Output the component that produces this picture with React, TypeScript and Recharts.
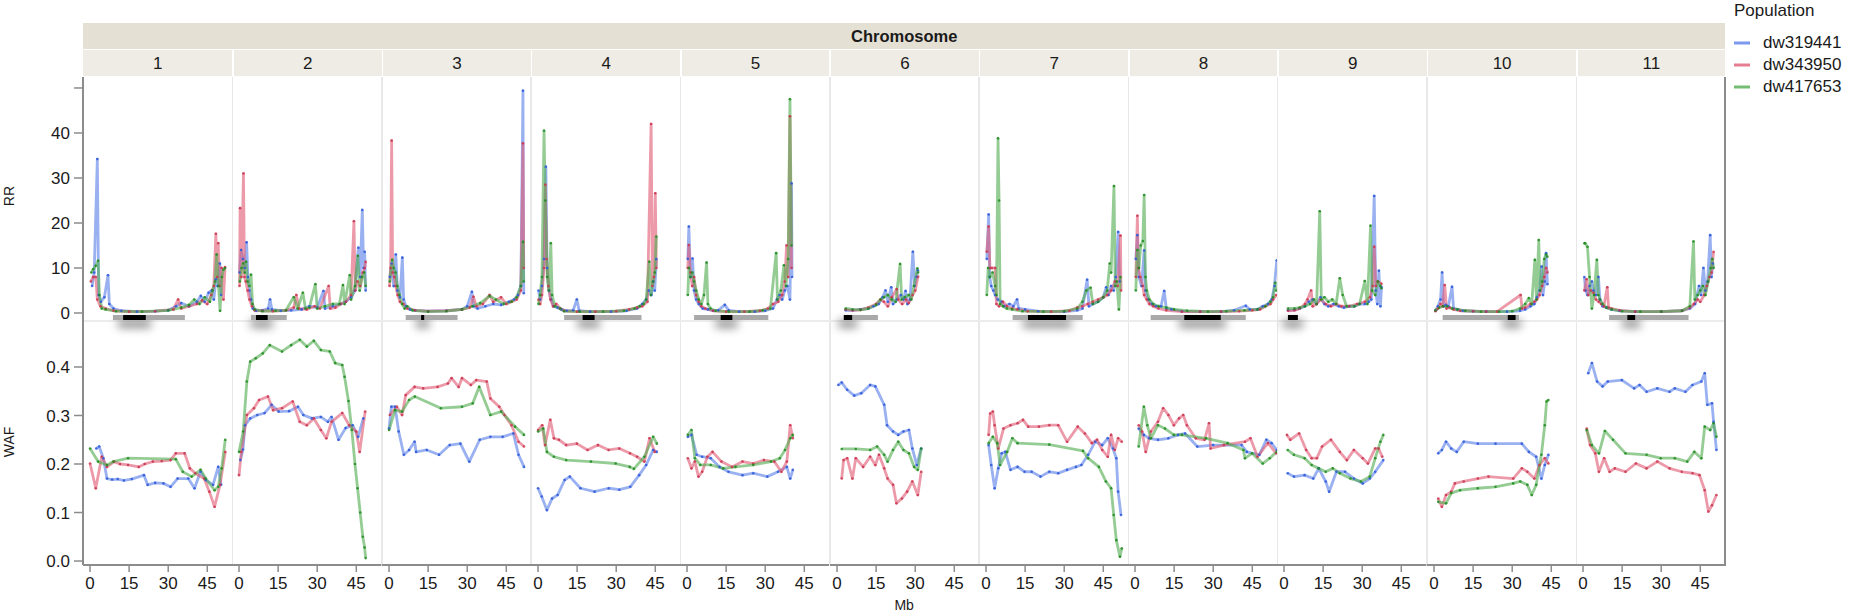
import React from 'react'
import { LineChart, Line, XAxis, YAxis, ReferenceArea } from 'recharts'

type P = [number, number]

const chromosomes = ['1', '2', '3', '4', '5', '6', '7', '8', '9', '10', '11']
const populations = ['dw319441', 'dw343950', 'dw417653']
const popColors = ['#5b80e8', '#e05c74', '#52ad52']
const dotColors = ['#2c57d8', '#c9344e', '#1f8a1f']

const mbTicks = [0, 15, 30, 45]
const rrTicks = [0, 10, 20, 30, 40, 50]
const wafTicks = [0, 0.1, 0.2, 0.3, 0.4]

// chromosome ideogram under RR panels: grey arm span and black centromere, Mb
const armSpans: P[] = [[8.8, 36.4], [4.6, 18.3], [6.4, 26.3], [10, 39.7], [2.7, 31.2], [2.6, 15.7], [10.2, 37.1], [6, 42.5], [1.5, 5.3], [3.3, 32.6], [10, 40.5]]
const centromeres: P[] = [[12.7, 21.4], [6.5, 11], [12.3, 13.5], [17.1, 21.7], [12.9, 17.4], [2.6, 5.8], [16.1, 30.7], [18.9, 32.9], [1.5, 5.3], [28.3, 31.3], [17, 20]]

// RR per chromosome: [dw319441, dw343950, dw417653], points are [Mb, RR]
const rr1: P[][] = [
  [[0.8, 6], [1.6, 9], [2.8, 34.2], [3.3, 4], [4.2, 2.5], [5.5, 3.5], [6.9, 8.4], [7.4, 2], [9, 1], [12, 0.5], [18, 0.3], [25, 0.4], [30, 0.6], [33, 1.5], [35, 2.2], [38, 1.5], [41, 2.5], [42.5, 3.8], [44, 2.5], [45.5, 4.5], [46.7, 5], [47.5, 3], [48.3, 7.5], [49, 6], [49.8, 11], [50.3, 4]],
  [[0.3, 7], [1.2, 8], [2.2, 8], [2.8, 3], [4, 1.5], [6, 1], [9, 0.5], [15, 0.3], [25, 0.4], [32, 0.8], [33.8, 3], [35, 1], [38, 1.5], [41, 2], [43, 2.8], [45, 2], [46.5, 4], [47.5, 6], [48.3, 17.6], [48.8, 8], [49.2, 15.5], [49.7, 6], [50.5, 10], [51.2, 3], [51.8, 10.2]],
  [[0.5, 9], [1.2, 9.7], [2.2, 10.5], [3.1, 11.6], [3.6, 4], [4.5, 1], [6, 0.8], [10, 0.4], [20, 0.3], [30, 0.6], [35, 1.2], [38, 1.8], [40, 3], [42, 2], [44, 3.5], [46, 2.5], [47, 5], [48, 7], [48.6, 13], [49.3, 6], [49.9, 0.5], [50.6, 8], [51.2, 9.6], [51.8, 10]],
]
const rr2: P[][] = [
  [[0.2, 9], [0.8, 14], [1.5, 12], [2.2, 10], [2.9, 15.7], [3.4, 8], [4, 5], [4.6, 3], [5.3, 1], [6.5, 0.5], [9, 0.6], [11.2, 1], [11.9, 3], [12.6, 0.8], [16, 0.5], [20, 0.6], [24, 0.8], [27, 1.5], [30, 1.2], [32.4, 4.9], [33, 1], [36, 1.5], [39, 2], [41, 2.5], [43, 3.5], [44.5, 5], [45.8, 14.5], [46.5, 8], [47.3, 22.9], [47.8, 10], [48.2, 13.6], [48.6, 5]],
  [[0.2, 6], [0.4, 23.3], [0.9, 8], [1.7, 31], [2.1, 8], [2.6, 7], [3.3, 5], [4, 3], [5, 1.5], [6, 0.6], [9, 0.5], [13, 0.4], [18, 0.6], [21, 1.2], [22, 4], [23, 1], [26, 0.8], [29, 1.5], [31, 1], [34.4, 6], [35, 1], [37, 1.2], [39, 2], [41, 2.5], [43, 4], [44.1, 20.4], [44.6, 5], [45.5, 7], [46.5, 6], [47.5, 9], [48.2, 10], [48.6, 11.4]],
  [[0.3, 7], [1, 10], [1.6, 11], [2.2, 9], [2.7, 11.4], [3.3, 7], [4, 6], [4.6, 8.5], [5.2, 2], [6, 0.8], [9, 0.4], [14, 0.5], [18, 0.6], [21, 3.5], [22.5, 1], [24.5, 4.5], [25.5, 1], [27, 1.2], [29.3, 6.4], [30, 1], [33, 1.5], [36, 2], [38.5, 2], [39.9, 6.2], [40.5, 2], [42.5, 8.4], [43, 3], [44.5, 6], [45.6, 12.7], [46.3, 5], [47.2, 8], [48, 9], [48.6, 6]],
]
const rr3: P[][] = [
  [[0.3, 8], [1, 11], [1.8, 6], [2.6, 13], [3.2, 5], [4.2, 3.5], [5.1, 12.3], [5.6, 3], [6.5, 1.5], [8, 0.8], [10, 0.6], [15, 0.4], [22, 0.5], [28, 0.8], [30, 1.5], [31.8, 4.7], [32.4, 1.5], [34, 1], [37, 1.5], [40, 2], [43, 1.8], [46, 2.5], [48, 3], [49.5, 4], [50.6, 6], [51.4, 49.4], [51.7, 4.4]],
  [[0.2, 6], [0.6, 10], [1, 38.3], [1.4, 9], [2, 8], [2.6, 6], [3.3, 4], [4.2, 2.5], [5.5, 2], [7, 1], [10, 0.6], [15, 0.4], [22, 0.5], [28, 0.8], [31, 1.2], [32.4, 3.6], [33.5, 1.5], [36, 2], [38.6, 4], [40, 2.5], [43, 3.5], [45, 2], [47, 2.5], [49, 3], [50.6, 5], [51.4, 37.7], [51.7, 10]],
  [[0.3, 7], [1.2, 11.8], [1.8, 10], [2.5, 9], [3.2, 6], [4, 4], [5, 2], [6, 1], [7, 1.5], [9, 0.6], [15, 0.3], [22, 0.4], [28, 0.8], [32, 1.5], [35, 2.2], [38.6, 3.8], [41, 3], [44, 2], [47, 2.5], [49, 3.5], [50.6, 6], [51.4, 15.8], [51.7, 7]],
]
const rr4: P[][] = [
  [[0.2, 5], [0.8, 3], [1.5, 6], [2.3, 12], [3, 32.5], [3.5, 10], [4.2, 5], [5, 3], [6, 1.5], [7.5, 1.2], [9, 0.8], [11, 0.5], [13.5, 0.6], [14.9, 3], [15.8, 0.5], [20, 0.3], [28, 0.3], [34, 0.5], [38, 1], [40, 2], [41.5, 3], [42.5, 5], [43.5, 4], [44.2, 7], [44.8, 5], [45.4, 12]],
  [[0.2, 3], [0.8, 2], [1.5, 4], [2.3, 10], [2.8, 28.5], [3.3, 12], [4, 6], [4.8, 3], [5.8, 1.5], [7, 2], [8.5, 1], [10, 0.5], [15, 0.3], [22, 0.3], [30, 0.4], [35, 0.8], [38, 1.2], [40, 1.5], [42, 2.5], [43.4, 42], [43.9, 6], [44.5, 8], [45, 26.6], [45.4, 10]],
  [[0.2, 2], [0.8, 4], [1.5, 8], [2.3, 40.5], [2.8, 25], [3.5, 8], [4.2, 5], [4.9, 15.5], [5.4, 4], [6.5, 1.5], [8.5, 1], [10, 0.4], [16, 0.3], [25, 0.3], [33, 0.5], [37, 1], [39, 1.5], [40.5, 2], [41.5, 3], [42.7, 11.4], [43.3, 4], [44.2, 7], [44.8, 9], [45.4, 17]],
]
const rr5: P[][] = [
  [[0.3, 12], [0.7, 19.2], [1.3, 8], [2.1, 12.1], [2.7, 5], [3.5, 3], [4.5, 2], [6, 1], [8, 0.8], [10, 0.5], [12, 0.6], [14.5, 1.8], [16, 0.6], [20, 0.3], [26, 0.3], [30, 0.5], [33, 1], [34.5, 3], [35.5, 4], [36.5, 3], [37.5, 5], [38.5, 6], [39.5, 3], [40.1, 28.8], [40.3, 8]],
  [[0.3, 10], [0.7, 15.1], [1.3, 9], [2, 6], [2.7, 8], [3.5, 4], [4.5, 2.5], [5.5, 1.5], [7, 1], [10, 0.5], [15, 0.3], [22, 0.3], [28, 0.5], [31, 1], [33, 2], [35, 2.5], [36.5, 4], [37.5, 7], [38.2, 15], [38.8, 8], [39.5, 43.7], [40.1, 10]],
  [[0.3, 4], [0.7, 10], [1.3, 8], [2, 9], [2.7, 7], [3.5, 5], [4.5, 3], [5.5, 2], [6.5, 4], [7.5, 11.2], [8, 2], [9, 1], [11, 0.5], [16, 0.3], [24, 0.3], [29, 0.6], [32, 1], [34.2, 13.3], [34.7, 3], [36, 5], [37.2, 10.6], [38, 6], [38.8, 12], [39.5, 47.5], [40.1, 15]],
]
const rr6: P[][] = [
  [[3.3, 0.6], [6, 0.6], [9, 0.8], [12, 1], [14, 1.5], [16, 2], [17.5, 3.5], [18.6, 5], [19.5, 2.5], [20.8, 5.7], [21.5, 2], [23, 3], [24.5, 4], [25.5, 3], [26.3, 4.9], [27, 2], [28, 3], [29.1, 13.6], [29.8, 6], [30.5, 8], [31, 9.5]],
  [[3.3, 0.8], [6, 0.6], [9, 0.7], [12, 1.2], [15, 2], [16.7, 3], [18, 2.5], [19.5, 1.5], [21, 3.5], [22.9, 5.3], [23.5, 3], [25, 2], [26.5, 3], [27.5, 2.2], [29, 4], [30, 5], [31.1, 8.1]],
  [[3.3, 1], [6, 0.8], [9, 0.7], [12, 1], [15, 1.8], [16.7, 3], [18, 3.5], [19.5, 4], [21, 3], [22.5, 2.5], [24.2, 10.9], [24.8, 3], [26, 3.5], [27.5, 4], [28.5, 3], [29.5, 6], [30.8, 9.9], [31.1, 9]],
]
const rr7: P[][] = [
  [[0.3, 12], [1, 21.9], [1.4, 8], [2, 6], [2.8, 5], [3.5, 4], [4.5, 3], [6, 2.5], [7, 1.5], [9, 2], [10.5, 1.5], [11.9, 3], [12.5, 1], [15, 0.8], [20, 0.4], [30, 0.3], [35, 0.6], [37, 1], [38.8, 7.4], [39.5, 1.5], [41, 2], [43, 2.5], [45, 3.5], [46.1, 5.7], [47, 4], [48, 6], [49, 5], [49.8, 8], [50.7, 18], [51.3, 7]],
  [[0.3, 13.6], [1, 19.2], [1.5, 10], [2.3, 10], [3.5, 10], [4, 2], [5, 1.5], [6.5, 2.5], [8, 1.5], [10, 1], [12, 0.8], [16, 0.4], [25, 0.3], [32, 0.5], [35, 1.2], [37, 1.5], [39, 2], [41, 2.5], [43, 3], [45, 3.5], [46.5, 4], [48, 5], [49.5, 7], [50.5, 6], [51.6, 17.2], [51.8, 5]],
  [[0.3, 4], [0.8, 10], [1.5, 8], [2.5, 9], [3.5, 6], [4, 4], [4.6, 38.8], [5, 25], [5.4, 2], [6.5, 1.5], [8, 1], [10, 0.8], [14, 0.4], [22, 0.3], [30, 0.4], [35, 1], [37, 2.5], [38.5, 5], [40.1, 5.6], [41, 2], [43, 2.5], [45, 3.5], [46.5, 5], [47.5, 11], [48, 9], [49.1, 28.2], [49.6, 6], [50.2, 7], [51, 0.8], [51.6, 8]],
]
const rr8: P[][] = [
  [[0.3, 12], [0.9, 17.3], [1.5, 8], [2.5, 6], [3.5, 13.9], [4, 5], [5, 3], [6.5, 2], [8, 1.5], [10, 1.5], [11.2, 4.9], [12, 1], [14, 0.8], [18, 0.4], [25, 0.3], [33, 0.3], [38, 0.6], [42.5, 1.6], [44, 0.8], [47, 0.8], [49, 1.5], [51, 2], [52.5, 3], [53.5, 6], [54.4, 11.7]],
  [[0.3, 8], [0.9, 21.6], [1.3, 10], [2, 8], [3, 6], [3.5, 4], [4.5, 3], [5.5, 2], [7, 1.5], [9, 1], [12, 0.6], [18, 0.3], [25, 0.3], [33, 0.3], [40, 0.4], [45, 0.6], [48, 0.8], [50, 1.5], [52, 2], [53, 3], [54.2, 4]],
  [[0.3, 5], [0.9, 14], [1.5, 10], [2.2, 15], [3, 16], [3.5, 26.2], [4, 8], [4.5, 5], [5.5, 3], [7, 2], [9, 1.5], [12, 1.2], [15, 0.8], [20, 0.5], [28, 0.3], [35, 0.4], [42, 0.6], [47, 0.8], [50, 1.5], [52, 2.5], [53, 3.5], [53.8, 6.7], [54.2, 5]],
]
const rr9: P[][] = [
  [[1.5, 0.6], [4, 0.7], [6, 1], [8, 1.5], [9.5, 2.5], [11, 3], [12.5, 2], [14, 3.5], [15.5, 2], [17, 1.5], [19, 2], [21, 1.5], [23, 1.2], [25, 1.5], [27, 1.5], [29, 2], [31, 2], [32.5, 2.5], [33.5, 3], [34.6, 26], [35.2, 5], [35.8, 2], [36.4, 9.4], [37, 1.5], [37.4, 5.8]],
  [[1.5, 0.5], [4, 0.6], [6, 1], [8, 2], [9, 3], [10.4, 5], [11, 1.5], [12.5, 2], [14, 3], [16, 2], [18, 1.5], [20, 2], [22, 1.5], [25, 1.5], [28, 2], [31, 2.5], [33, 3.5], [34, 6], [34.6, 14.7], [35.2, 6], [36, 7], [37.4, 6.5]],
  [[1.5, 1], [4, 1], [6, 1.2], [8, 1.5], [10, 2], [11.5, 3], [12.5, 2], [13.7, 22.6], [14.3, 3], [15.5, 3.5], [17, 2.5], [18.5, 3], [20, 2], [21.4, 7.7], [22.5, 4], [24, 1.5], [27, 1.5], [29, 2], [31, 7.1], [32, 2], [33.2, 19.4], [33.8, 5], [35, 4], [36, 7], [37, 6], [37.4, 5.5]],
]
const rr10: P[][] = [
  [[0.5, 0.5], [1.5, 1.5], [2.5, 3], [3.1, 9], [3.6, 1.5], [4.5, 1.8], [5.5, 1.5], [6.9, 5.8], [7.5, 1], [9, 0.8], [11, 0.5], [15, 0.4], [20, 0.3], [28, 0.3], [33, 0.5], [35, 0.8], [37, 1.5], [38.5, 2], [39.5, 3.5], [40.5, 5], [41.3, 10.3], [41.8, 4], [42.5, 7], [43, 13.3], [43.5, 6.4]],
  [[0.5, 0.4], [1.5, 1], [2.5, 2], [3.3, 1.5], [4.1, 6.2], [4.8, 1], [6, 1.2], [7.5, 0.8], [10, 0.5], [15, 0.4], [20, 0.3], [24.2, 0.3], [33.2, 4], [33.8, 1], [35, 1.2], [37, 2], [38.5, 2.5], [39.5, 3], [40.5, 4], [41.5, 6], [42.3, 8], [43, 10], [43.5, 9]],
  [[0.5, 0.6], [2, 1.2], [3.5, 1.5], [5, 1.5], [7, 1], [9, 0.8], [12, 0.5], [18, 0.3], [25, 0.3], [30, 0.4], [33, 1], [35, 2], [36.4, 3.3], [37.5, 2], [38.7, 11.8], [39.3, 3], [40.2, 16.2], [40.7, 5], [41.5, 7], [42.3, 12], [43, 13], [43.5, 12.5]],
]
const rr11: P[][] = [
  [[0.5, 8], [1, 5], [1.7, 4], [2.5, 6], [3.4, 7], [4, 5], [5, 4], [5.9, 8], [6.5, 3], [7.5, 1.5], [9, 1.2], [11, 0.8], [14, 0.5], [20, 0.3], [30, 0.3], [38, 0.5], [41, 1], [43, 2], [44.5, 6], [45.3, 4], [46.2, 10], [47, 5], [47.8, 7], [48.8, 17.3], [49.3, 8], [49.8, 11]],
  [[0.5, 5], [1.4, 7.5], [2, 4], [3, 5], [4, 4.5], [5, 3], [6, 2.5], [7, 2], [8, 1.5], [9.3, 5.7], [9.8, 1.2], [11, 1], [14, 0.6], [20, 0.3], [30, 0.3], [38, 0.5], [41, 1.2], [42.5, 2], [44, 3], [45, 2.5], [46.5, 4], [47.5, 6], [48.5, 8], [49.3, 9], [50.1, 13.6]],
  [[0.5, 15.5], [0.8, 15.5], [1.7, 14.7], [2.5, 8], [3.4, 1], [4.2, 4], [5.3, 11.8], [5.9, 4], [6.5, 3], [7.5, 2], [9, 1.2], [11, 0.8], [15, 0.4], [22, 0.3], [30, 0.3], [38, 0.5], [41, 1.5], [42.4, 15.9], [42.9, 3], [44, 4], [45, 5], [46, 6], [47, 4], [48, 7], [49, 10], [49.6, 12], [50.1, 10]],
]

// WAF per chromosome: [dw319441, dw343950, dw417653], points are [Mb, WAF]
const waf1: P[][] = [
  [[2.4, 0.232], [3.5, 0.236], [5.1, 0.212], [6.5, 0.17], [8.5, 0.168], [10.6, 0.169], [13, 0.166], [16, 0.169], [20.7, 0.177], [22.1, 0.157], [25, 0.161], [28.2, 0.16], [30.9, 0.153], [33.6, 0.17], [37.7, 0.17], [40.1, 0.15], [42.4, 0.184], [44.4, 0.167], [47.2, 0.157], [49.2, 0.194], [50.3, 0.157]],
  [[0, 0.201], [2.2, 0.15], [4.5, 0.215], [6.5, 0.194], [9.2, 0.205], [11.5, 0.2], [14.6, 0.198], [18.7, 0.194], [21, 0.2], [24.1, 0.205], [27.5, 0.206], [30.9, 0.208], [32.9, 0.222], [36.3, 0.222], [38.3, 0.191], [40.4, 0.181], [43.8, 0.17], [45.8, 0.143], [47.8, 0.112], [49.9, 0.157], [51.9, 0.225]],
  [[0, 0.232], [3.1, 0.205], [6.5, 0.198], [9, 0.205], [14.6, 0.212], [32.9, 0.21], [35.6, 0.184], [39, 0.174], [42.4, 0.188], [44.4, 0.17], [47.8, 0.146], [49.2, 0.153], [50.5, 0.191], [51.9, 0.25]],
]
const waf2: P[][] = [
  [[0.5, 0.208], [1.5, 0.23], [2.3, 0.28], [4.3, 0.294], [7, 0.301], [9.8, 0.305], [12.5, 0.322], [15.2, 0.308], [19.2, 0.309], [22.6, 0.318], [24.7, 0.301], [28, 0.294], [31.4, 0.297], [34.1, 0.287], [35.5, 0.297], [38.2, 0.25], [40.9, 0.274], [43.6, 0.28], [45.7, 0.256], [47.7, 0.294]],
  [[0, 0.177], [0.9, 0.225], [3, 0.301], [5.7, 0.315], [7.7, 0.332], [11.1, 0.339], [13.1, 0.311], [16.5, 0.315], [20.6, 0.329], [23.3, 0.287], [26, 0.28], [28.7, 0.294], [31.4, 0.27], [33.5, 0.253], [35.5, 0.287], [39.6, 0.305], [42.3, 0.28], [45, 0.267], [46.3, 0.225], [48.4, 0.308]],
  [[0, 0.225], [1.6, 0.267], [3, 0.37], [4.3, 0.411], [6.4, 0.418], [9.1, 0.428], [11.8, 0.445], [16.5, 0.432], [20, 0.445], [23.3, 0.456], [26, 0.442], [28.7, 0.454], [31.4, 0.435], [34.8, 0.432], [36.9, 0.408], [39.6, 0.404], [40.5, 0.38], [42, 0.33], [43.3, 0.27], [44.5, 0.2], [45.5, 0.15], [46.5, 0.1], [47.5, 0.05], [48.2, 0.028], [48.6, 0.006]],
]
const waf3: P[][] = [
  [[0, 0.273], [0.9, 0.318], [2.3, 0.318], [3.7, 0.267], [5.7, 0.219], [7.7, 0.229], [9.8, 0.246], [10.4, 0.225], [14.5, 0.229], [19.2, 0.219], [23.3, 0.239], [27.4, 0.242], [30.8, 0.205], [34.8, 0.25], [38.9, 0.256], [43.6, 0.256], [47.7, 0.263], [49.7, 0.219], [51.8, 0.194]],
  [[0.3, 0.301], [3, 0.318], [5, 0.301], [6.4, 0.342], [9.8, 0.359], [13.1, 0.356], [18.6, 0.359], [22.6, 0.366], [24, 0.377], [26.7, 0.359], [28, 0.377], [31.4, 0.363], [33.5, 0.373], [37.5, 0.37], [38.9, 0.335], [42.3, 0.318], [44.3, 0.301], [47, 0.28], [49.7, 0.246], [51.8, 0.236]],
  [[0, 0.27], [2.3, 0.311], [5, 0.308], [7.7, 0.332], [9.9, 0.339], [19.9, 0.315], [28, 0.318], [32.1, 0.325], [34.6, 0.359], [38.9, 0.301], [43, 0.308], [48.4, 0.277], [51.8, 0.26]],
]
const waf4: P[][] = [
  [[0, 0.15], [1.4, 0.133], [3.4, 0.105], [5.4, 0.129], [7.5, 0.136], [10.2, 0.167], [12.2, 0.174], [16.3, 0.15], [21.7, 0.143], [27.1, 0.15], [31.2, 0.147], [35.4, 0.153], [38.8, 0.177], [41.5, 0.198], [44.2, 0.229], [45.6, 0.225]],
  [[0, 0.27], [1.6, 0.28], [2.7, 0.239], [4.7, 0.291], [6.1, 0.253], [8, 0.25], [10.8, 0.239], [14.9, 0.242], [19, 0.229], [23, 0.239], [27.1, 0.229], [31.2, 0.232], [35.3, 0.222], [38, 0.215], [40.8, 0.205], [42.8, 0.253], [44.8, 0.225]],
  [[0, 0.267], [2, 0.273], [3.4, 0.225], [6.1, 0.215], [10.8, 0.208], [20.3, 0.205], [29.8, 0.201], [35.2, 0.194], [36.8, 0.19], [40.8, 0.215], [44.2, 0.256], [45.6, 0.242]],
]
const waf5: P[][] = [
  [[0.3, 0.256], [1.7, 0.26], [3.7, 0.219], [5.8, 0.215], [9.1, 0.212], [12.5, 0.194], [15.9, 0.184], [21.3, 0.177], [25.4, 0.181], [30.8, 0.174], [34.9, 0.184], [38.3, 0.194], [39.6, 0.17], [40.6, 0.188]],
  [[0.3, 0.212], [1.7, 0.191], [3, 0.205], [4.4, 0.174], [5.8, 0.184], [7.8, 0.215], [9.8, 0.225], [13.2, 0.205], [17.3, 0.194], [21.3, 0.205], [25.4, 0.201], [29.5, 0.208], [33.5, 0.205], [36.2, 0.184], [38.3, 0.205], [39.6, 0.28], [40.6, 0.253]],
  [[0.3, 0.26], [1.7, 0.27], [3, 0.212], [5.1, 0.198], [9.1, 0.198], [13.9, 0.191], [18.6, 0.194], [25.4, 0.198], [32.2, 0.205], [35.6, 0.212], [37.6, 0.229], [39.6, 0.253], [40.6, 0.26]],
]
const waf6: P[][] = [
  [[0.5, 0.363], [1.8, 0.368], [3.9, 0.353], [6.6, 0.341], [9.3, 0.346], [12.7, 0.363], [14.7, 0.36], [18.1, 0.322], [19.2, 0.28], [21.5, 0.267], [23.5, 0.26], [25.5, 0.267], [27.6, 0.27], [28.9, 0.232], [30.6, 0.198], [32.3, 0.232]],
  [[1.8, 0.17], [2.5, 0.208], [3.9, 0.212], [5.9, 0.17], [7.2, 0.212], [10, 0.194], [12.7, 0.215], [14.7, 0.198], [16.1, 0.219], [18.1, 0.191], [19.4, 0.17], [21.5, 0.157], [22.8, 0.119], [24.9, 0.129], [26.9, 0.143], [28.9, 0.164], [31, 0.136], [32.3, 0.184]],
  [[1.8, 0.231], [7.2, 0.231], [12.7, 0.229], [15.4, 0.236], [18.1, 0.219], [19.4, 0.205], [21.5, 0.229], [23.5, 0.246], [25.5, 0.229], [27.6, 0.222], [29.6, 0.194], [31, 0.188], [32.3, 0.232]],
]
const waf7: P[][] = [
  [[1, 0.239], [2, 0.198], [3.3, 0.15], [4.7, 0.191], [6, 0.222], [7.4, 0.225], [9.4, 0.188], [12.1, 0.194], [14.8, 0.184], [17.5, 0.184], [20.9, 0.174], [24.3, 0.184], [27.7, 0.181], [31.1, 0.188], [34.5, 0.194], [36.6, 0.198], [39.2, 0.219], [41.9, 0.246], [44.6, 0.239], [46.7, 0.253], [48.7, 0.232], [50, 0.212], [50.7, 0.143], [51.8, 0.095]],
  [[1, 0.26], [1.6, 0.304], [2.6, 0.308], [3.3, 0.28], [4.7, 0.232], [6.7, 0.273], [9.4, 0.28], [12.1, 0.284], [14.2, 0.291], [16.2, 0.277], [20.3, 0.277], [24.3, 0.28], [27.7, 0.28], [31.1, 0.246], [35.2, 0.277], [37.9, 0.263], [40.6, 0.243], [42.6, 0.25], [44.6, 0.229], [46.7, 0.215], [48, 0.26], [49.4, 0.229], [50.7, 0.253], [52.1, 0.246]],
  [[1, 0.243], [2.6, 0.256], [4.3, 0.243], [5.4, 0.198], [8.1, 0.225], [10.1, 0.253], [12.1, 0.243], [24.3, 0.24], [37.2, 0.227], [39.2, 0.212], [43.3, 0.194], [46, 0.164], [48, 0.15], [49, 0.095], [50, 0.043], [51.4, 0.009], [52.1, 0.026]],
]
const waf8: P[][] = [
  [[1.4, 0.273], [3.4, 0.26], [5.4, 0.253], [8.8, 0.25], [12.8, 0.253], [16.5, 0.26], [19.2, 0.263], [23.9, 0.236], [30, 0.239], [40.9, 0.239], [42.9, 0.225], [47.7, 0.219], [50.4, 0.25], [52.4, 0.243], [54.4, 0.229]],
  [[1.4, 0.28], [2.7, 0.267], [4.1, 0.225], [6.1, 0.267], [8.8, 0.287], [10.8, 0.315], [12.8, 0.301], [14.9, 0.28], [16.9, 0.294], [18.5, 0.301], [19.9, 0.28], [23.3, 0.253], [26.7, 0.25], [28.4, 0.284], [29, 0.232], [34.1, 0.239], [42.2, 0.246], [44.3, 0.253], [47, 0.215], [51, 0.243], [54.2, 0.222]],
  [[1.4, 0.236], [3.4, 0.318], [4.7, 0.28], [6.1, 0.253], [8.8, 0.28], [11.5, 0.273], [14.9, 0.26], [18, 0.26], [27.3, 0.253], [35.5, 0.243], [41.6, 0.229], [42.2, 0.212], [44.9, 0.222], [49, 0.201], [51.7, 0.212], [54.4, 0.225]],
]
const waf9: P[][] = [
  [[1.4, 0.181], [3.8, 0.174], [7.9, 0.177], [11.2, 0.17], [13.3, 0.191], [16, 0.164], [17.3, 0.143], [20.1, 0.184], [23.4, 0.184], [26.8, 0.17], [30.2, 0.16], [32.9, 0.17], [35, 0.184], [38.1, 0.208]],
  [[1.1, 0.26], [2.4, 0.25], [5.8, 0.263], [8.5, 0.229], [10.6, 0.212], [12.6, 0.212], [14.6, 0.236], [18, 0.25], [21.4, 0.225], [24.1, 0.208], [26.8, 0.229], [30.2, 0.212], [32.2, 0.201], [35, 0.232], [36.3, 0.232], [37.7, 0.215]],
  [[1.4, 0.229], [3.8, 0.219], [7.9, 0.212], [10.6, 0.198], [13.3, 0.191], [16, 0.184], [18.7, 0.191], [21.4, 0.181], [25.5, 0.17], [29.5, 0.164], [32.9, 0.174], [35, 0.212], [37, 0.246], [38.1, 0.26]],
]
const waf10: P[][] = [
  [[1.6, 0.222], [3, 0.229], [4.6, 0.246], [6.6, 0.232], [8.7, 0.225], [11.4, 0.246], [16.8, 0.242], [23.6, 0.242], [33.7, 0.242], [36.4, 0.225], [39.2, 0.215], [41.2, 0.17], [42.5, 0.198], [43.9, 0.219]],
  [[1.6, 0.129], [3, 0.112], [4.6, 0.136], [6.6, 0.143], [8, 0.16], [11.4, 0.164], [16.8, 0.17], [20.9, 0.174], [30.4, 0.17], [33.7, 0.191], [35.8, 0.184], [38.5, 0.17], [40.5, 0.198], [42.5, 0.212], [43.9, 0.201]],
  [[1.6, 0.122], [4.6, 0.119], [6.6, 0.14], [10, 0.146], [16.8, 0.15], [23.6, 0.153], [30.4, 0.16], [33.1, 0.164], [35.8, 0.157], [37.5, 0.136], [39.2, 0.157], [41.2, 0.219], [42.5, 0.28], [43.2, 0.329], [43.9, 0.332]],
]
const waf11: P[][] = [
  [[2, 0.387], [3.4, 0.408], [5.4, 0.37], [7.5, 0.36], [9.5, 0.37], [14.9, 0.373], [19.6, 0.356], [21.7, 0.363], [24.4, 0.349], [28.5, 0.356], [33.2, 0.349], [35.2, 0.356], [39.3, 0.349], [42, 0.363], [45.4, 0.37], [46.7, 0.387], [47.7, 0.322], [49.5, 0.325], [50.1, 0.287], [51.2, 0.229]],
  [[1.4, 0.273], [2.7, 0.239], [4.7, 0.222], [6.1, 0.184], [8.1, 0.212], [10.2, 0.184], [12.2, 0.191], [16.3, 0.184], [20.3, 0.201], [24.4, 0.191], [28.5, 0.205], [33.2, 0.191], [37.9, 0.184], [42, 0.181], [44.7, 0.177], [46.7, 0.146], [48.1, 0.102], [49.5, 0.115], [51.2, 0.136]],
  [[1.4, 0.27], [3.4, 0.239], [6.1, 0.222], [8.4, 0.268], [11.5, 0.25], [16.3, 0.222], [24.4, 0.219], [29.8, 0.212], [35.2, 0.212], [40, 0.205], [42.7, 0.225], [45.4, 0.212], [46.7, 0.277], [48.8, 0.27], [50.1, 0.284], [51.2, 0.256]],
]

const rrData = [rr1, rr2, rr3, rr4, rr5, rr6, rr7, rr8, rr9, rr10, rr11]
const wafData = [waf1, waf2, waf3, waf4, waf5, waf6, waf7, waf8, waf9, waf10, waf11]

const FONT = '"Liberation Sans", Arial, Helvetica, sans-serif'
const PLOT_LEFT = 83
const FACET_W = 149.3
const AXIS_W = 83
const RR_TOP = 77
const RR_H = 264 // runs 20px under the WAF panel so the ideogram shadow is not cut
const WAF_TOP = 321
const WAF_H = 244
const XAXIS_H = 36
const MB_DOMAIN = [-2.7, 54.6]
const RR_DOMAIN = [-6.22, 52.44]
const WAF_DOMAIN = [-0.0082, 0.4948]
const AXIS_GREY = '#8c8c8c'

const rows = (pts: P[]) => pts.map(([x, y]) => ({ x, y }))

function seriesLines(data: P[][]) {
  return data.map((pts, k) => (
    <Line
      key={populations[k]}
      data={rows(pts)}
      dataKey="y"
      type="linear"
      stroke={popColors[k]}
      strokeOpacity={0.62}
      strokeWidth={2.8}
      strokeLinejoin="round"
      dot={{ r: 1.3, fill: dotColors[k], stroke: 'none', fillOpacity: 0.85 }}
      activeDot={false}
      isAnimationActive={false}
    />
  ))
}

const tickStyle = { fontSize: 17, fill: '#1a1a1a', fontFamily: FONT }

function RRFacet({ i }: { i: number }) {
  const first = i === 0
  const left = first ? 0 : PLOT_LEFT + i * FACET_W
  const width = first ? AXIS_W + FACET_W : FACET_W
  const [a0, a1] = armSpans[i]
  const [c0, c1] = centromeres[i]
  return (
    <div style={{ position: 'absolute', left, top: RR_TOP }}>
      <LineChart width={width} height={RR_H} margin={{ top: 0, right: 0, bottom: 0, left: 0 }}>
        <defs>
          <filter id={`shadow${i}`} x="-50%" y="-200%" width="200%" height="500%">
            <feGaussianBlur stdDeviation="5" />
          </filter>
        </defs>
        <XAxis type="number" dataKey="x" domain={MB_DOMAIN} allowDataOverflow hide />
        <YAxis
          type="number"
          domain={RR_DOMAIN}
          ticks={rrTicks}
          allowDataOverflow
          hide={!first}
          width={AXIS_W}
          tick={tickStyle}
          tickFormatter={(v) => (v === 50 ? '' : String(v))}
          tickSize={9}
          tickMargin={4}
          axisLine={{ stroke: AXIS_GREY, strokeWidth: 2 }}
          tickLine={{ stroke: AXIS_GREY, strokeWidth: 1.5 }}
        />
        <ReferenceArea
          x1={c0 - 2}
          x2={c1 + 2}
          y1={-3.2}
          y2={-1.6}
          shape={(p: any) => (
            <rect x={p.x} y={p.y} width={p.width} height={p.height} fill="#000" opacity={0.5} filter={`url(#shadow${i})`} />
          )}
        />
        <ReferenceArea x1={a0} x2={a1} y1={-1.55} y2={-0.45} fill="#a9a9a9" fillOpacity={1} stroke="none" />
        <ReferenceArea x1={c0} x2={c1} y1={-1.55} y2={-0.45} fill="#000" fillOpacity={1} stroke="none" />
        {seriesLines(rrData[i])}
      </LineChart>
    </div>
  )
}

function WAFFacet({ i }: { i: number }) {
  const first = i === 0
  const left = first ? 0 : PLOT_LEFT + i * FACET_W
  const width = first ? AXIS_W + FACET_W : FACET_W
  return (
    <div style={{ position: 'absolute', left, top: WAF_TOP }}>
      <LineChart width={width} height={WAF_H + XAXIS_H} margin={{ top: 0, right: 0, bottom: 0, left: 0 }}>
        <XAxis
          type="number"
          dataKey="x"
          domain={MB_DOMAIN}
          ticks={mbTicks}
          allowDataOverflow
          height={XAXIS_H}
          tick={tickStyle}
          tickSize={7}
          tickMargin={5}
          interval={0}
          axisLine={{ stroke: AXIS_GREY, strokeWidth: 2 }}
          tickLine={{ stroke: AXIS_GREY, strokeWidth: 1.5 }}
        />
        <YAxis
          type="number"
          domain={WAF_DOMAIN}
          ticks={wafTicks}
          allowDataOverflow
          hide={!first}
          width={AXIS_W}
          tick={tickStyle}
          tickFormatter={(v) => Number(v).toFixed(1)}
          tickSize={9}
          tickMargin={4}
          axisLine={{ stroke: AXIS_GREY, strokeWidth: 2 }}
          tickLine={{ stroke: AXIS_GREY, strokeWidth: 1.5 }}
        />
        {seriesLines(wafData[i])}
      </LineChart>
    </div>
  )
}

export default function App() {
  const plotW = FACET_W * chromosomes.length
  return (
    <div style={{ position: 'absolute', left: 0, top: 0, width: 1850, height: 615, background: '#fff', fontFamily: FONT, color: '#1a1a1a' }}>
      {/* strips */}
      <div style={{ position: 'absolute', left: PLOT_LEFT, top: 23, width: plotW, height: 26, background: '#e4e0d4', textAlign: 'center', lineHeight: '26px', fontWeight: 'bold', fontSize: 16.5 }}>
        Chromosome
      </div>
      {chromosomes.map((c, i) => (
        <div
          key={c}
          style={{ position: 'absolute', left: PLOT_LEFT + i * FACET_W + (i ? 1.5 : 0), top: 50, width: FACET_W - (i ? 1.5 : 0), height: 26, background: '#eeece4', textAlign: 'center', lineHeight: '27px', fontSize: 17 }}
        >
          {c}
        </div>
      ))}

      {/* facet grid lines */}
      {chromosomes.slice(1).map((c, i) => (
        <div key={c} style={{ position: 'absolute', left: PLOT_LEFT + (i + 1) * FACET_W - 0.5, top: RR_TOP, width: 1.5, height: 488, background: '#e8e8e8' }} />
      ))}
      <div style={{ position: 'absolute', left: PLOT_LEFT, top: 320, width: plotW, height: 1.5, background: '#ececec' }} />
      <div style={{ position: 'absolute', left: PLOT_LEFT + plotW - 1, top: RR_TOP, width: 2, height: 489, background: AXIS_GREY }} />

      {chromosomes.map((c, i) => <RRFacet key={c} i={i} />)}
      {chromosomes.map((c, i) => <WAFFacet key={c} i={i} />)}

      {/* axis titles */}
      <div style={{ position: 'absolute', left: -11, top: 188, width: 40, textAlign: 'center', fontSize: 14, transform: 'rotate(-90deg)' }}>RR</div>
      <div style={{ position: 'absolute', left: -11, top: 434, width: 40, textAlign: 'center', fontSize: 14, transform: 'rotate(-90deg)' }}>WAF</div>
      <div style={{ position: 'absolute', left: PLOT_LEFT, top: 597, width: plotW, textAlign: 'center', fontSize: 14 }}>Mb</div>

      {/* legend */}
      <div style={{ position: 'absolute', left: 1734, top: 0, fontSize: 17 }}>
        <div style={{ height: 22, lineHeight: '22px' }}>Population</div>
        <div style={{ height: 10 }} />
        {populations.map((p, k) => (
          <div key={p} style={{ display: 'flex', alignItems: 'center', height: 22 }}>
            <svg width={29} height={22}>
              <line x1={0} x2={16} y1={11} y2={11} stroke={popColors[k]} strokeWidth={3} strokeOpacity={0.8} />
            </svg>
            <span style={{ fontSize: 17 }}>{p}</span>
          </div>
        ))}
      </div>
    </div>
  )
}
